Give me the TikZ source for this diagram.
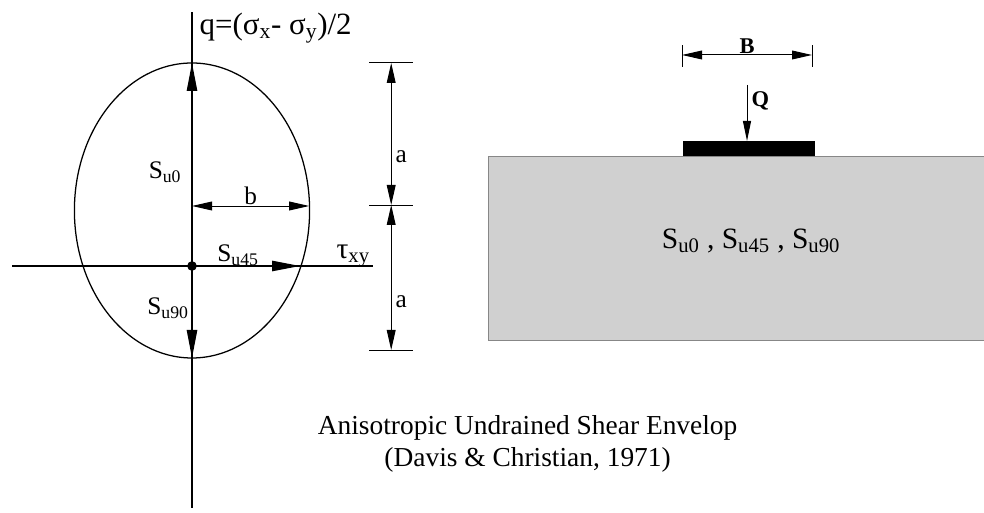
\documentclass[tikz,border=0pt]{standalone}
\usepackage{fontspec}
\setmainfont{Liberation Serif}
\usetikzlibrary{arrows.meta, positioning, calc}
\definecolor{soilgray}{RGB}{208,208,208}
\definecolor{soilline}{RGB}{135,135,135}

\tikzset{
    axisline/.style={line width=0.9pt},
    vecarrow/.style={line width=0.9pt, -{Triangle[length=7mm, width=2.6mm]}},
    dimarrow/.style={line width=0.7pt, {Triangle[length=5mm, width=2.2mm]}-{Triangle[length=5mm, width=2.2mm]}},
    lbl/.style={font=\fontsize{18}{20}\selectfont, inner sep=1pt},
}

\begin{document}
\begin{tikzpicture}[font=\fontsize{18}{21}\selectfont]
    \useasboundingbox (0,0) rectangle (24.6,12.825);
    % envelope and axes
    \coordinate (O) at (4.8,6.175);
    \coordinate (vtop) at (4.8,12.525);
    \coordinate (vbot) at (4.8,0.125);
    \coordinate (hleft) at (0.3,6.175);
    \coordinate (hright) at (9.325,6.175);
    \coordinate (etop) at (4.8,11.25);
    \coordinate (ebot) at (4.8,3.875);
    \coordinate (eright) at (7.5,6.175);
    \draw[axisline] (vbot) -- (vtop);
    \draw[axisline] (hleft) -- (hright);
    \draw[axisline] (4.8,7.5625) ellipse [x radius=2.94, y radius=3.6875];
    \draw[vecarrow] (O) -- (etop);
    \draw[vecarrow] (O) -- (ebot);
    \draw[vecarrow] (O) -- (eright);
    \fill (O) circle (0.12);
    \node[lbl, anchor=west, font=\fontsize{22}{24}\selectfont] (qlbl) at (4.95,12.125) {q=(σ\textsubscript{x}- σ\textsubscript{y})/2};
    \node[lbl] (su0) at (4.125,8.525) {S\textsubscript{u0}};
    \node[lbl] (su45) at (5.95,6.45) {S\textsubscript{u45}};
    \node[lbl] (su90) at (4.2,5.125) {S\textsubscript{u90}};
    \node[lbl, font=\fontsize{21}{23}\selectfont] (tau) at (8.83,6.42) {τ\textsubscript{xy}};
    % dimension b
    \coordinate (bL) at (4.8,7.675);
    \coordinate (bR) at (7.73,7.675);
    \draw[dimarrow] (bL) -- (bR);
    \node[lbl, above] (blbl) at ($(bL)!0.5!(bR)$) {b};
    % dimension a
    \coordinate (a1) at (9.78,11.25);
    \coordinate (a2) at (9.78,7.7);
    \coordinate (a3) at (9.78,4.075);
    \foreach \c in {a1,a2,a3}
        \draw[line width=0.7pt] ($(\c)+(-0.55,0)$) -- ($(\c)+(0.55,0)$);
    \draw[dimarrow] (a1) -- (a2);
    \draw[dimarrow] (a2) -- (a3);
    \node[lbl, anchor=west] (aup) at (9.85,8.9) {a};
    \node[lbl, anchor=west] (alow) at (9.85,5.275) {a};

    % soil and footing
    \draw[fill=soilgray, draw=soilline, line width=0.6pt] (12.2,4.325) rectangle (24.8,8.925);
    \fill (17.075,8.925) rectangle (20.375,9.3);
    \coordinate (footc) at (18.675,9.3);
    \coordinate (Qtail) at (18.675,10.7);
    \draw[line width=0.7pt, -{Triangle[length=5mm, width=2mm]}] (Qtail) -- (footc);
    \node[lbl, anchor=west, font=\fontsize{16}{18}\selectfont\bfseries] (Qlbl) at (18.75,10.3) {Q};
    \coordinate (B1) at (17.05,11.45);
    \coordinate (B2) at (20.3,11.45);
    \foreach \c in {B1,B2}
        \draw[line width=0.7pt] ($(\c)+(0,-0.3)$) -- ($(\c)+(0,0.25)$);
    \draw[dimarrow] (B1) -- (B2);
    \node[lbl, above, font=\fontsize{16}{18}\selectfont\bfseries] (Blbl) at ($(B1)!0.5!(B2)$) {B};
    \node[font=\fontsize{21}{23}\selectfont] (props) at (18.775,6.8)
        {S\textsubscript{u0} , S\textsubscript{u45} , S\textsubscript{u90}};

    % caption
    \node[anchor=base, font=\fontsize{19.5}{22}\selectfont] (cap1) at (13.19,1.95)
        {Anisotropic Undrained Shear Envelop};
    \node[anchor=base, font=\fontsize{19.5}{22}\selectfont] (cap2) at (13.19,1.15)
        {(Davis \& Christian, 1971)};
\end{tikzpicture}
\end{document}
